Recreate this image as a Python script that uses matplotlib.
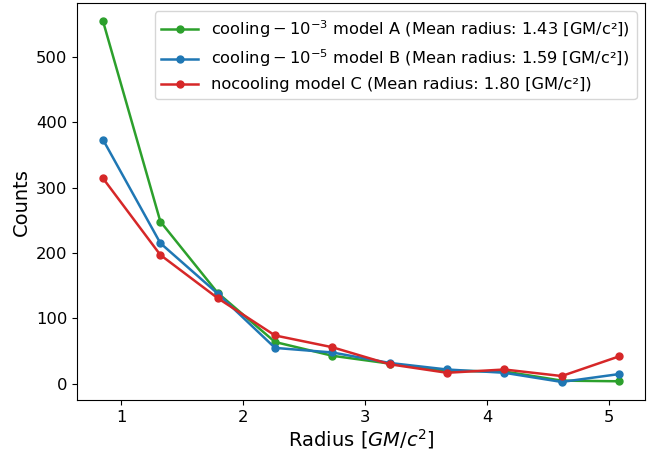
import numpy as np
import matplotlib
matplotlib.use("Agg")
import matplotlib.pyplot as plt

RADIUS = [0.85, 1.32, 1.79, 2.26, 2.73, 3.20, 3.67, 4.14, 4.61, 5.08]
COUNTS_A = [554, 248, 139, 64, 43, 31, 20, 19, 5, 4]
COUNTS_B = [373, 215, 138, 55, 48, 32, 22, 17, 3, 15]
COUNTS_C = [314, 197, 131, 74, 56, 30, 17, 22, 12, 42]

LABELS = [
    r"$\mathrm{cooling}-10^{-3}$ model A (Mean radius: 1.43 [GM/c²])",
    r"$\mathrm{cooling}-10^{-5}$ model B (Mean radius: 1.59 [GM/c²])",
    "nocooling model C (Mean radius: 1.80 [GM/c²])",
]
COLORS = ["tab:green", "tab:blue", "tab:red"]

fig = plt.figure(figsize=(6.6, 4.54), dpi=100)
ax = fig.add_axes([0.117, 0.119, 0.86, 0.874])

for counts, label, color in zip([COUNTS_A, COUNTS_B, COUNTS_C], LABELS, COLORS):
    ax.plot(RADIUS, counts, marker="o", markersize=5, linewidth=1.8, color=color, label=label)

ax.set_xlabel(r"Radius [$GM/c^2$]", fontsize=14, labelpad=2)
ax.set_ylabel("Counts", fontsize=14)
ax.tick_params(labelsize=11.8)
ax.legend(loc="upper right", fontsize=11.7, labelspacing=0.5, handlelength=2.3)

fig.savefig("out.png", dpi=100)
